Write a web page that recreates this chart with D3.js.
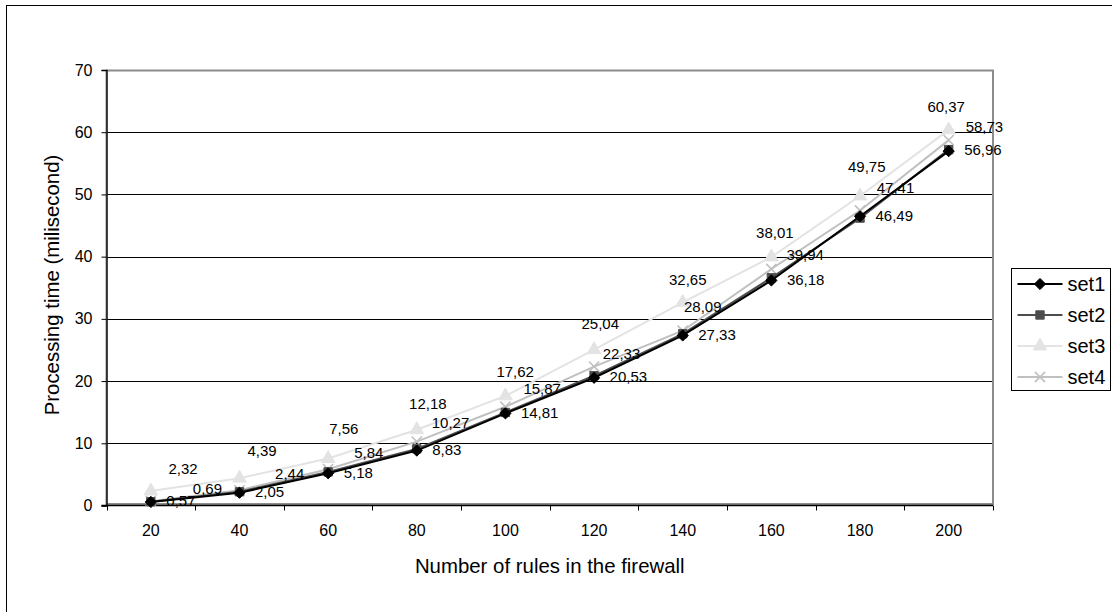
<!DOCTYPE html>
<html>
<head>
<meta charset="utf-8">
<script src="https://cdn.jsdelivr.net/npm/d3@7"></script>
<style>
  html, body { margin: 0; padding: 0; background: #fff; overflow: hidden; }
  svg { display: block; }
  text { font-family: "Liberation Sans", Arial, sans-serif; fill: #000; }
</style>
</head>
<body>
<svg id="chart" width="1112" height="612"></svg>
<script>
// Rule counts on the x axis
const categories = [20, 40, 60, 80, 100, 120, 140, 160, 180, 200];

// Processing time per rule set (ms)
const set1 = [0.57, 2.05, 5.18, 8.83, 14.81, 20.53, 27.33, 36.18, 46.49, 56.96];
const set2 = [0.62, 2.2, 5.4, 9.1, 14.95, 20.85, 27.6, 36.6, 46.2, 57.2];
const set3 = [2.32, 4.39, 7.56, 12.18, 17.62, 25.04, 32.65, 39.94, 49.75, 60.37];
const set4 = [0.69, 2.44, 5.84, 10.27, 15.87, 22.33, 28.09, 38.01, 47.41, 58.73];

const yTicks = [0, 10, 20, 30, 40, 50, 60, 70];
const seriesNames = ["set1", "set2", "set3", "set4"];

// Hand-placed data label offsets (left edge dx, vertical centre dy) per point
const set3LabelOffsets = [[17.6, -22.8], [8, -27], [1, -30], [-7.7, -26.4], [-9, -24.2],
  [-12.6, -25.5], [-13.7, -22.4], [15, -2], [-12, -28.8], [-21.3, -23.3]];
const set4LabelOffsets = [[42, -12], [35.6, -17], [26, -16], [15, -19], [18, -18.5],
  [8.7, -13.3], [1.3, -24], [-15.3, -36.4], [16.7, -22.3], [17, -13.5]];
const set1LabelOffset = [15.5, -1];

const svg = d3.select("#chart");

// Chart area frame (runs past the right and bottom edges of the view)
svg.append("rect")
  .attr("x", 6.5).attr("y", 5.5).attr("width", 1130).attr("height", 640)
  .attr("fill", "#fff").attr("stroke", "#000").attr("stroke-width", 1);

const plot = { left: 106.5, right: 993, top: 70, bottom: 505.5 };

const x = d3.scaleBand().domain(categories).range([plot.left, plot.right]).paddingInner(0).paddingOuter(0);
const cx = d => x(d) + x.bandwidth() / 2;
const y = d3.scaleLinear().domain([0, 70]).range([plot.bottom, plot.top]);

// Gridlines
svg.append("g").selectAll("line").data(yTicks.filter(t => t > 0 && t < 70)).join("line")
  .attr("x1", plot.left).attr("x2", plot.right)
  .attr("y1", d => Math.round(y(d)) + 0.5).attr("y2", d => Math.round(y(d)) + 0.5)
  .attr("stroke", "#000").attr("stroke-width", 1);

// Plot area border
svg.append("rect")
  .attr("x", plot.left).attr("y", y(70) + 0.5)
  .attr("width", plot.right - plot.left).attr("height", plot.bottom - y(70) - 2)
  .attr("fill", "none").attr("stroke", "#8c8c8c").attr("stroke-width", 2);

// Y axis
const yAxis = d3.axisLeft(y).tickValues(yTicks).tickSize(5).tickPadding(9).tickFormat(d3.format("d"));
const gy = svg.append("g").attr("transform", `translate(${plot.left},0)`).call(yAxis);
gy.select(".domain").attr("stroke", "#000").attr("stroke-width", 1.3);
gy.selectAll(".tick line").attr("stroke", "#000");
gy.selectAll(".tick text").attr("font-size", 16).attr("fill", "#000")
  .attr("font-family", "Liberation Sans, Arial, sans-serif");

// X axis: labels centred in each category, ticks on category boundaries
const xAxis = d3.axisBottom(x).tickSize(0).tickPadding(19);
const gx = svg.append("g").attr("transform", `translate(0,${plot.bottom})`).call(xAxis);
gx.select(".domain").remove();
gx.selectAll(".tick text").attr("font-size", 16).attr("fill", "#000")
  .attr("font-family", "Liberation Sans, Arial, sans-serif");
const bounds = categories.map(c => x(c)).concat([x(categories[categories.length - 1]) + x.bandwidth()]);
svg.append("g").selectAll("line").data(bounds).join("line")
  .attr("x1", d => Math.round(d) + 0.5).attr("x2", d => Math.round(d) + 0.5)
  .attr("y1", plot.bottom).attr("y2", plot.bottom + 5)
  .attr("stroke", "#000");
svg.append("line")
  .attr("x1", plot.left - 5).attr("x2", plot.right)
  .attr("y1", plot.bottom).attr("y2", plot.bottom)
  .attr("stroke", "#000").attr("stroke-width", 1.5);

// Axis titles
svg.append("text")
  .attr("x", (plot.left + plot.right) / 2).attr("y", 573)
  .attr("text-anchor", "middle").attr("font-size", 20.4)
  .text("Number of rules in the firewall");
svg.append("text")
  .attr("transform", `translate(59,285) rotate(-90)`)
  .attr("text-anchor", "middle").attr("font-size", 20.4)
  .text("Processing time (milisecond)");

// Marker shapes
const sym = {
  diamond: d3.symbol().type(d3.symbolDiamond2).size(80),
  square: d3.symbol().type(d3.symbolSquare).size(70),
  triangle: d3.symbol().type(d3.symbolTriangle).size(80),
  cross: d3.symbol().type(d3.symbolX).size(70)
};

const series = [
  { name: "set1", values: set1, color: "#000000", marker: "diamond", width: 2 },
  { name: "set2", values: set2, color: "#4d4d4d", marker: "square", width: 2 },
  { name: "set3", values: set3, color: "#e3e3e3", marker: "triangle", width: 2 },
  { name: "set4", values: set4, color: "#c0c0c0", marker: "cross", width: 2 }
];

const line = d3.line().x((d, i) => cx(categories[i])).y(d => y(d));

function drawMarker(g, s, px, py) {
  const p = g.append("path").attr("d", sym[s.marker]())
    .attr("transform", `translate(${px},${py})`);
  if (s.marker === "cross") {
    p.attr("fill", "none").attr("stroke", s.color).attr("stroke-width", 1.6);
  } else {
    p.attr("fill", s.color).attr("stroke", s.color).attr("stroke-width", 1);
  }
}

// Draw in reverse so set1 ends up on top
const drawOrder = [series[2], series[3], series[1], series[0]];
drawOrder.forEach(s => {
  const g = svg.append("g");
  g.append("path").datum(s.values).attr("d", line)
    .attr("fill", "none").attr("stroke", s.color).attr("stroke-width", s.width);
  s.values.forEach((v, i) => drawMarker(g, s, cx(categories[i]), y(v)));
});

// Data labels
const fmt = v => d3.format(".2f")(v).replace(".", ",");
function labels(values, offsetAt) {
  svg.append("g").selectAll("text").data(values).join("text")
    .attr("x", (d, i) => cx(categories[i]) + offsetAt(i)[0])
    .attr("y", (d, i) => y(d) + offsetAt(i)[1])
    .attr("dy", "0.35em")
    .attr("font-size", 15)
    .text(fmt);
}
labels(set3, i => set3LabelOffsets[i]);
labels(set4, i => set4LabelOffsets[i]);
labels(set1, () => set1LabelOffset);

// Legend
const legend = svg.append("g");
const lg = { x: 1011.5, y: 268.5, w: 99, h: 122, row: 31 };
legend.append("rect").attr("x", lg.x).attr("y", lg.y).attr("width", lg.w).attr("height", lg.h)
  .attr("fill", "#fff").attr("stroke", "#000");
series.forEach((s, i) => {
  const ry = lg.y + 15.5 + i * lg.row;
  legend.append("line").attr("x1", lg.x + 6).attr("x2", lg.x + 51).attr("y1", ry).attr("y2", ry)
    .attr("stroke", s.color).attr("stroke-width", s.width);
  drawMarker(legend, s, lg.x + 28.5, ry);
  legend.append("text").attr("x", lg.x + 56).attr("y", ry).attr("dy", "0.35em")
    .attr("font-size", 20).text(s.name);
});
</script>
</body>
</html>
